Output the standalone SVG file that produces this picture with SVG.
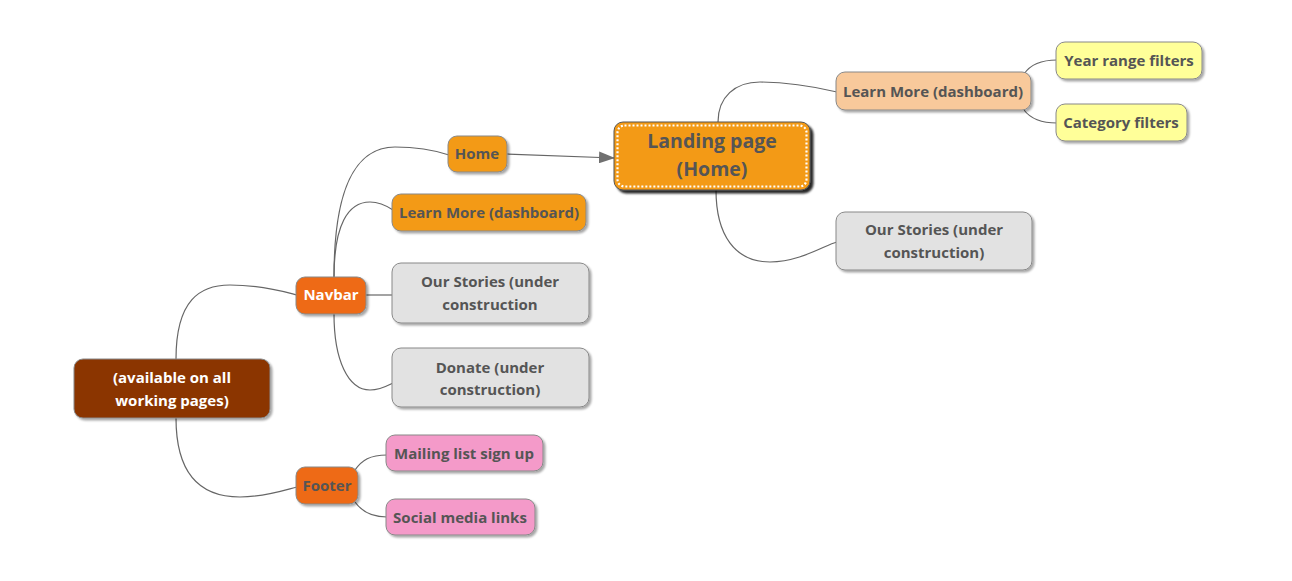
<svg xmlns="http://www.w3.org/2000/svg" width="1292" height="581" viewBox="0 0 1292 581">
<defs>
<filter id="sh" x="-20%" y="-20%" width="140%" height="150%">
<feDropShadow dx="2" dy="2" stdDeviation="1.2" flood-color="#000" flood-opacity="0.35"/>
</filter>
<filter id="shd" x="-20%" y="-20%" width="140%" height="150%">
<feDropShadow dx="3" dy="3" stdDeviation="0.8" flood-color="#000" flood-opacity="0.85"/>
</filter>
<marker id="arr" markerWidth="16" markerHeight="12" refX="15" refY="6" orient="auto" markerUnits="userSpaceOnUse">
<path d="M0,0 L16,6 L0,12 Z" fill="#707070"/>
</marker>
</defs>
<style>
text{font-family:"Open Sans","Noto Sans","Liberation Sans",sans-serif;font-weight:bold;font-size:15px;fill:#555;text-anchor:middle}
.c{fill:none;stroke:#666;stroke-width:1.2}
.b{stroke:#888;stroke-width:1;filter:url(#sh)}
.or{fill:#F39A16}
.red{fill:#EE6A12}
.gr{fill:#E2E2E2}
.pk{fill:#F49AC9}
.pe{fill:#F8C99B}
.ye{fill:#FFFF99}
.w{fill:#fff}
.big{font-size:19.5px}
</style>
<rect width="1292" height="581" fill="#fff"/>
<g id="connectors">
<path class="c" d="M176,359 C176,300 200,285 230,285 C262,285 285,292 297,295"/>
<path class="c" d="M176,418 C176,480 205,497 240,497 C265,497 285,490 297,487"/>
<path class="c" d="M334,277 C334,190 355,147 395,147 C420,147 440,152 449,155"/>
<path class="c" d="M334,277 C334,225 348,202 370,202 C380,202 387,206 393,210"/>
<path class="c" d="M366,295 L393,295"/>
<path class="c" d="M334,314 C334,360 348,390 370,390 C380,390 387,386 393,383"/>
<path class="c" d="M355,470 C362,460 370,455 387,455"/>
<path class="c" d="M355,502 C362,512 372,517 387,517"/>
<path class="c" d="M507,154 L614,158" marker-end="url(#arr)"/>
<path class="c" d="M718,122 C718,97 735,82 760,82 C790,82 820,88 837,92"/>
<path class="c" d="M716,190 C716,235 735,262 770,262 C800,262 825,245 837,242"/>
<path class="c" d="M1024,74 C1030,65 1040,60 1057,60"/>
<path class="c" d="M1024,110 C1030,118 1040,123 1057,123"/>
</g>
<g id="root">
<rect class="b" x="74" y="359" width="196" height="59" rx="9" fill="#8B3505"/>
<text x="172" y="383" class="w">(available on all</text>
<text x="172" y="406" class="w">working pages)</text>
</g>
<g id="navbar">
<rect class="b red" x="296" y="277" width="70" height="37" rx="9"/>
<text x="331" y="300" class="w">Navbar</text>
</g>
<g id="footer">
<rect class="b red" x="296" y="467" width="62" height="37" rx="9"/>
<text x="327" y="491">Footer</text>
</g>
<g id="home">
<rect class="b or" x="448" y="136" width="59" height="36" rx="9"/>
<text x="477" y="159">Home</text>
</g>
<g id="learn-left">
<rect class="b or" x="392" y="194" width="194" height="37" rx="9"/>
<text x="489" y="218">Learn More (dashboard)</text>
</g>
<g id="stories-left">
<rect class="b gr" x="392" y="263" width="197" height="60" rx="9"/>
<text x="490" y="287">Our Stories (under</text>
<text x="490" y="310">construction</text>
</g>
<g id="donate">
<rect class="b gr" x="392" y="348" width="197" height="59" rx="9"/>
<text x="490" y="373">Donate (under</text>
<text x="490" y="395">construction)</text>
</g>
<g id="mailing">
<rect class="b pk" x="386" y="435" width="157" height="36" rx="9"/>
<text x="464" y="459">Mailing list sign up</text>
</g>
<g id="social">
<rect class="b pk" x="386" y="499" width="149" height="36" rx="9"/>
<text x="460" y="523">Social media links</text>
</g>
<g id="landing">
<rect x="614" y="122" width="196" height="68" rx="9" fill="#F39A16" stroke="#555" stroke-width="1" filter="url(#shd)"/>
<rect x="617.5" y="125.5" width="189" height="61" rx="7" fill="none" stroke="#fff" stroke-width="2.2" stroke-dasharray="2 2"/>
<text x="712" y="148" class="big">Landing page</text>
<text x="712" y="176" class="big">(Home)</text>
</g>
<g id="learn-right">
<rect class="b pe" x="836" y="72" width="195" height="38" rx="9"/>
<text x="933" y="97">Learn More (dashboard)</text>
</g>
<g id="year">
<rect class="b ye" x="1056" y="42" width="146" height="37" rx="9"/>
<text x="1129" y="66">Year range filters</text>
</g>
<g id="category">
<rect class="b ye" x="1056" y="104" width="131" height="37" rx="9"/>
<text x="1121" y="128">Category filters</text>
</g>
<g id="stories-right">
<rect class="b gr" x="836" y="212" width="196" height="58" rx="9"/>
<text x="934" y="235">Our Stories (under</text>
<text x="934" y="258">construction)</text>
</g>
</svg>
